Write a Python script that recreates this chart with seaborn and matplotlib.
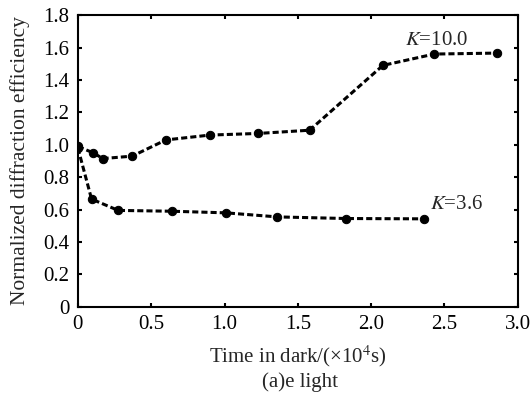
import matplotlib
matplotlib.use("Agg")
import matplotlib.pyplot as plt
import pandas as pd
import seaborn as sns

# K = 10.0 series
time_k10 = [0.0, 0.105, 0.17, 0.37, 0.6, 0.9, 1.23, 1.58, 2.08, 2.43, 2.86]
eff_k10 = [0.99, 0.95, 0.915, 0.93, 1.03, 1.06, 1.07, 1.09, 1.49, 1.56, 1.566]

# K = 3.6 series
time_k36 = [0.0, 0.093, 0.275, 0.64, 1.01, 1.36, 1.83, 2.36]
eff_k36 = [0.98, 0.665, 0.595, 0.59, 0.58, 0.555, 0.545, 0.543]

x_ticks = [0, 0.5, 1.0, 1.5, 2.0, 2.5, 3.0]
x_tick_labels = ["0", "0.5", "1.0", "1.5", "2.0", "2.5", "3.0"]
y_ticks = [0, 0.2, 0.4, 0.6, 0.8, 1.0, 1.2, 1.4, 1.6, 1.8]
y_tick_labels = ["0", "0.2", "0.4", "0.6", "0.8", "1.0", "1.2", "1.4", "1.6", "1.8"]

df = pd.concat([
    pd.DataFrame({"time": time_k10, "eff": eff_k10, "K": "10.0"}),
    pd.DataFrame({"time": time_k36, "eff": eff_k36, "K": "3.6"}),
])

sns.set_style("ticks")
plt.rcParams["font.family"] = ["Liberation Serif", "DejaVu Serif"]
plt.rcParams["mathtext.fontset"] = "stix"

fs = 15

fig = plt.figure(figsize=(5.3, 3.99), dpi=100)
ax = fig.add_axes([0.147, 0.231, 0.83, 0.731])

for k in ["10.0", "3.6"]:
    sub = df[df["K"] == k]
    sns.lineplot(data=sub, x="time", y="eff", ax=ax, color="black",
                 linestyle=(0, (2.0, 1.0)), linewidth=2.2, marker="o",
                 markersize=6, markeredgecolor="black", sort=False)

ax.set_xlim(0, 3.0)
ax.set_ylim(0, 1.8)
ax.set_xticks(x_ticks)
ax.set_xticklabels(x_tick_labels)
ax.set_yticks(y_ticks)
ax.set_yticklabels(y_tick_labels)
ax.tick_params(direction="in", length=3, width=1.5, top=True, right=True,
               labelsize=fs, colors="black")
ax.tick_params(axis="x", pad=6)
ax.tick_params(axis="y", pad=6)
for s in ax.spines.values():
    s.set_linewidth(1.5)
    s.set_color("black")

ax.set_xlabel(r"Time in dark/(×10$^{4}$s)", fontsize=fs)
ax.set_ylabel("Normalized diffraction efficiency", fontsize=15.5)
ax.xaxis.set_label_coords(0.5, -0.125)
ax.yaxis.set_label_coords(-0.11, 0.5)

ax.text(2.23, 1.615, r"$\it{K}$=10.0", fontsize=fs)
ax.text(2.40, 0.605, r"$\it{K}$=3.6", fontsize=fs)

fig.text(0.566, 1 - 382 / 399, "(a)e light", fontsize=fs, ha="center", va="center")

fig.savefig("out.png", dpi=100)
